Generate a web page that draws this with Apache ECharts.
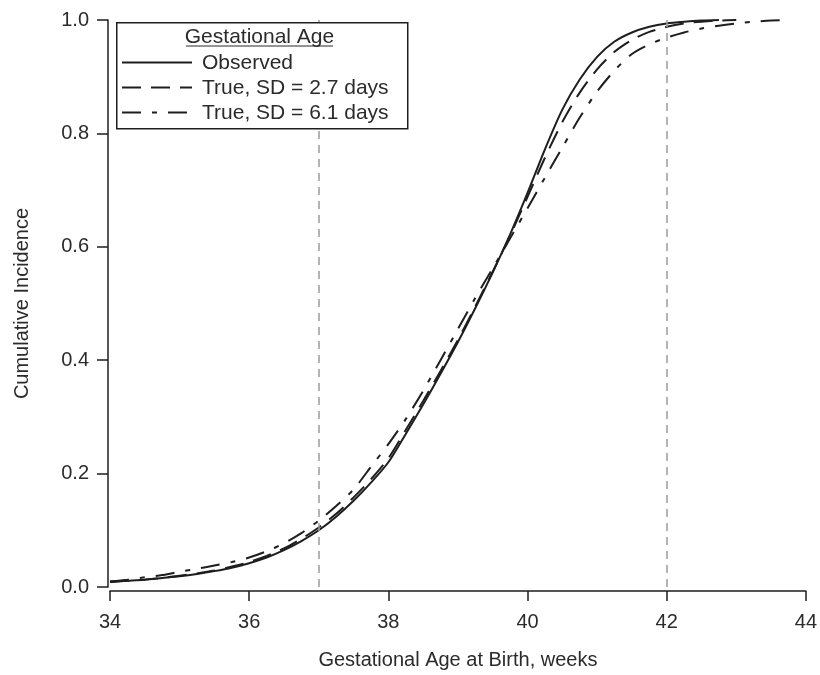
<!DOCTYPE html>
<html>
<head>
<meta charset="utf-8">
<script src="https://cdn.jsdelivr.net/npm/echarts@6/dist/echarts.min.js"></script>
<style>html,body{margin:0;padding:0;background:#fff;}#c{width:820px;height:675px;}</style>
</head>
<body>
<div id="c"></div>
<script>
// ---- data ----
const xTicks = [34, 36, 38, 40, 42, 44];
const yTicks = [0.0, 0.2, 0.4, 0.6, 0.8, 1.0];
const refLines = [37, 42];
const seriesNames = ['Observed', 'True, SD = 2.7 days', 'True, SD = 6.1 days'];
const legendTitle = 'Gestational Age';
const xAxisTitle = 'Gestational Age at Birth, weeks';
const yAxisTitle = 'Cumulative Incidence';

const obsX = [34, 34.25, 34.5, 34.75, 35, 35.25, 35.5, 35.75, 36, 36.25, 36.5, 36.75, 37, 37.25, 37.5, 37.75, 38, 38.25, 38.5, 38.75, 39, 39.25, 39.5, 39.75, 40, 40.25, 40.5, 40.75, 41, 41.25, 41.5, 41.75, 42, 42.25, 42.5, 42.75];
const obsY = [0.009, 0.011, 0.013, 0.016, 0.019, 0.023, 0.028, 0.034, 0.042, 0.052, 0.065, 0.081, 0.100, 0.124, 0.152, 0.184, 0.220, 0.270, 0.322, 0.376, 0.432, 0.492, 0.555, 0.622, 0.695, 0.772, 0.842, 0.895, 0.935, 0.962, 0.978, 0.988, 0.994, 0.997, 0.999, 1.000];

const sd27X = [34, 34.25, 34.5, 34.75, 35, 35.25, 35.5, 35.75, 36, 36.25, 36.5, 36.75, 37, 37.25, 37.5, 37.75, 38, 38.25, 38.5, 38.75, 39, 39.25, 39.5, 39.75, 40, 40.25, 40.5, 40.75, 41, 41.25, 41.5, 41.75, 42, 42.25, 42.5, 42.75, 43];
const sd27Y = [0.009, 0.011, 0.013, 0.016, 0.020, 0.024, 0.029, 0.036, 0.044, 0.055, 0.068, 0.085, 0.105, 0.129, 0.158, 0.190, 0.227, 0.277, 0.328, 0.381, 0.436, 0.495, 0.556, 0.620, 0.688, 0.757, 0.820, 0.872, 0.913, 0.944, 0.965, 0.979, 0.988, 0.994, 0.997, 0.999, 1.000];

const sd61X = [34, 34.25, 34.5, 34.75, 35, 35.25, 35.5, 35.75, 36, 36.25, 36.5, 36.75, 37, 37.25, 37.5, 37.75, 38, 38.25, 38.5, 38.75, 39, 39.25, 39.5, 39.75, 40, 40.25, 40.5, 40.75, 41, 41.25, 41.5, 41.75, 42, 42.25, 42.5, 42.75, 43, 43.25, 43.5, 43.77];
const sd61Y = [0.010, 0.013, 0.017, 0.021, 0.027, 0.032, 0.038, 0.044, 0.052, 0.063, 0.077, 0.095, 0.117, 0.143, 0.172, 0.212, 0.252, 0.296, 0.346, 0.400, 0.455, 0.510, 0.562, 0.615, 0.668, 0.722, 0.775, 0.828, 0.874, 0.911, 0.940, 0.957, 0.969, 0.978, 0.985, 0.990, 0.994, 0.997, 0.999, 1.000];

function pairs(xs, ys) { return xs.map((x, i) => [x, ys[i]]); }

const ink = '#1e1e1e';
const txt = '#2b2b2b';
const font = '"Liberation Sans", Arial, Helvetica, sans-serif';

const chart = echarts.init(document.getElementById('c'), null, {renderer: 'canvas'});

const lineDashes = [null, [19, 10], [19, 11, 5, 11]];
const lineTypes = ['solid', lineDashes[1], lineDashes[2]];
const dataSets = [pairs(obsX, obsY), pairs(sd27X, sd27Y), pairs(sd61X, sd61Y)];

const series = seriesNames.map((name, i) => ({
  name: name,
  type: 'line',
  data: dataSets[i],
  showSymbol: false,
  symbol: 'none',
  smooth: 0.25,
  z: 3,
  lineStyle: {color: ink, width: 2, type: lineTypes[i]},
  itemStyle: {color: ink}
}));

series.push({
  name: 'ref',
  type: 'line',
  data: [],
  silent: true,
  markLine: {
    silent: true,
    symbol: ['none', 'none'],
    label: {show: false},
    lineStyle: {color: '#9a9a9a', width: 1.5, type: [8, 6]},
    data: refLines.map(v => ({xAxis: v}))
  },
  z: 1
});

// legend drawn as graphic (box, underlined title, line samples, labels)
const legendLeft = 116, legendTop = 22, legendW = 291, legendH = 106;
const legendGraphics = [
  {type: 'rect', left: legendLeft, top: legendTop, z: 10, silent: true,
    shape: {width: legendW, height: legendH},
    style: {fill: '#ffffff', stroke: ink, lineWidth: 1.5}},
  {type: 'text', x: legendLeft + legendW / 2 - 2, y: 37, z: 11, silent: true,
    style: {text: legendTitle, font: '21px ' + font, fill: txt, align: 'center', verticalAlign: 'middle'}},
  {type: 'line', z: 11, silent: true,
    shape: {x1: 186, y1: 46, x2: 333, y2: 46},
    style: {stroke: txt, lineWidth: 1}}
];
seriesNames.forEach((name, i) => {
  const cy = 62.5 + i * 25;
  legendGraphics.push({type: 'line', z: 11, silent: true,
    shape: {x1: 122, y1: cy, x2: 192, y2: cy},
    style: {stroke: ink, lineWidth: 2, lineDash: lineDashes[i]}});
  legendGraphics.push({type: 'text', x: 202, y: cy + 1, z: 11, silent: true,
    style: {text: name, font: '21px ' + font, fill: txt, align: 'left', verticalAlign: 'middle'}});
});

chart.setOption({
  animation: false,
  backgroundColor: '#ffffff',
  textStyle: {fontFamily: font},
  grid: {left: 110, right: 14, top: 20, bottom: 84, containLabel: false},
  xAxis: {
    type: 'value',
    min: xTicks[0],
    max: xTicks[xTicks.length - 1],
    interval: 2,
    offset: 4,
    name: xAxisTitle,
    nameLocation: 'middle',
    nameGap: 59,
    nameTextStyle: {fontSize: 20, color: txt, fontFamily: font},
    axisLine: {show: true, onZero: false, lineStyle: {color: ink, width: 1.5}},
    axisTick: {show: true, length: 10, lineStyle: {color: ink, width: 1.5}},
    axisLabel: {fontSize: 20, color: txt, margin: 21, fontFamily: font,
      formatter: v => xTicks.includes(v) ? String(v) : ''},
    splitLine: {show: false}
  },
  yAxis: {
    type: 'value',
    min: yTicks[0],
    max: yTicks[yTicks.length - 1],
    interval: 0.2,
    offset: 2,
    name: yAxisTitle,
    nameLocation: 'middle',
    nameGap: 76,
    nameTextStyle: {fontSize: 20, color: txt, fontFamily: font},
    axisLine: {show: true, onZero: false, lineStyle: {color: ink, width: 1.5}},
    axisTick: {show: true, length: 11, lineStyle: {color: ink, width: 1.5}},
    axisLabel: {fontSize: 20, color: txt, margin: 19, fontFamily: font,
      formatter: v => v.toFixed(1)},
    splitLine: {show: false}
  },
  graphic: legendGraphics,
  series: series
});
</script>
</body>
</html>
